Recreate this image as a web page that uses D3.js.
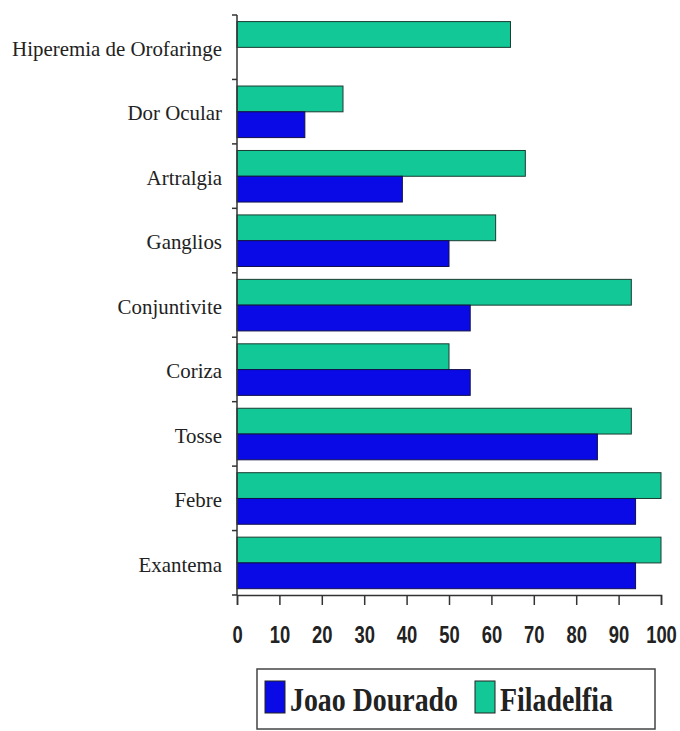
<!DOCTYPE html>
<html>
<head>
<meta charset="utf-8">
<script src="https://cdn.jsdelivr.net/npm/d3@7"></script>
<style>
  body { margin: 0; background: #fff; }
  svg { display: block; }
</style>
</head>
<body>
<svg id="chart" width="680" height="731"></svg>
<script>
// dados
const categories = ['Hiperemia de Orofaringe', 'Dor Ocular', 'Artralgia', 'Ganglios',
  'Conjuntivite', 'Coriza', 'Tosse', 'Febre', 'Exantema'];
const filadelfia = [64.5, 25, 68, 61, 93, 50, 93, 100, 100];
const joaoDourado = [0, 16, 39, 50, 55, 55, 85, 94, 94];
const xTicks = [0, 10, 20, 30, 40, 50, 60, 70, 80, 90, 100];
const seriesNames = ['Joao Dourado', 'Filadelfia'];
const colors = ['#0a0ae6', '#12c896'];

const svg = d3.select('#chart');
const margin = { top: 15, left: 237, right: 20 };
const plotBottom = 595;

const x = d3.scaleLinear().domain([0, 100]).range([margin.left, 661]);
const y = d3.scaleBand().domain(categories).range([margin.top, plotBottom])
    .paddingInner(0.2).paddingOuter(0.1).align(0.55);

// barras
const rows = categories.map((c, i) => ({ c, f: filadelfia[i], j: joaoDourado[i] }));
const h = y.bandwidth() / 2;

svg.append('g').selectAll('rect').data(rows).join('rect')
    .attr('x', x(0)).attr('y', d => y(d.c) - 0.5)
    .attr('width', d => x(d.f) - x(0)).attr('height', h)
    .attr('fill', colors[1]).attr('stroke', '#1b3b30').attr('stroke-width', 1);

svg.append('g').selectAll('rect').data(rows.filter(d => d.j > 0)).join('rect')
    .attr('x', x(0)).attr('y', d => y(d.c) + h - 0.5)
    .attr('width', d => x(d.j) - x(0)).attr('height', h)
    .attr('fill', colors[0]).attr('stroke', '#10104a').attr('stroke-width', 1);

// eixo x
const xAxis = svg.append('g').attr('transform', `translate(0,${plotBottom})`)
    .call(d3.axisBottom(x).tickValues(xTicks).tickSize(10).tickPadding(22));
xAxis.select('.domain').attr('stroke', '#333').attr('stroke-width', 1.5);
xAxis.selectAll('line').attr('stroke', '#333').attr('stroke-width', 1.5);
xAxis.selectAll('text')
    .attr('font-family', '"Liberation Sans Narrow", "Arial Narrow", "Liberation Sans", sans-serif')
    .attr('font-weight', 'bold').attr('font-size', 23).attr('fill', '#222')
    .attr('transform', 'scale(0.8,1)');

// eixo y
svg.append('line').attr('x1', x(0)).attr('x2', x(0))
    .attr('y1', margin.top).attr('y2', plotBottom).attr('stroke', '#333').attr('stroke-width', 1.5);
svg.append('g').selectAll('line').data(d3.range(categories.length + 1)).join('line')
    .attr('x1', x(0) - 5).attr('x2', x(0))
    .attr('y1', i => margin.top + i * (plotBottom - margin.top) / categories.length)
    .attr('y2', i => margin.top + i * (plotBottom - margin.top) / categories.length)
    .attr('stroke', '#333').attr('stroke-width', 1.5);

svg.append('g').selectAll('text').data(categories).join('text')
    .attr('x', 222).attr('y', c => y(c) + y.bandwidth() / 2 + 1)
    .attr('text-anchor', 'end').attr('dominant-baseline', 'central')
    .attr('font-family', '"Liberation Serif", "Times New Roman", serif')
    .attr('font-size', 22).attr('fill', '#222')
    .text(c => c)
    .attr('transform', 'translate(222,0) scale(0.95,1) translate(-222,0)');

// legenda
const lg = svg.append('g');
lg.append('rect').attr('x', 257).attr('y', 669).attr('width', 398).attr('height', 60)
    .attr('fill', '#fff').attr('stroke', '#444').attr('stroke-width', 1.5);
const items = [{ name: seriesNames[0], color: colors[0], x: 265 },
               { name: seriesNames[1], color: colors[1], x: 475 }];
lg.selectAll('rect.sw').data(items).join('rect').attr('class', 'sw')
    .attr('x', d => d.x).attr('y', 681).attr('width', 20).attr('height', 32)
    .attr('fill', d => d.color).attr('stroke', '#222').attr('stroke-width', 1);
lg.selectAll('text').data(items).join('text')
    .attr('x', d => d.x + 25).attr('y', 711)
    .attr('font-family', '"Liberation Serif", "Times New Roman", serif')
    .attr('font-weight', 'bold').attr('font-size', 34).attr('fill', '#222')
    .attr('transform', d => `translate(${d.x + 25},0) scale(0.82,1) translate(${-(d.x + 25)},0)`)
    .text(d => d.name);
</script>
</body>
</html>
